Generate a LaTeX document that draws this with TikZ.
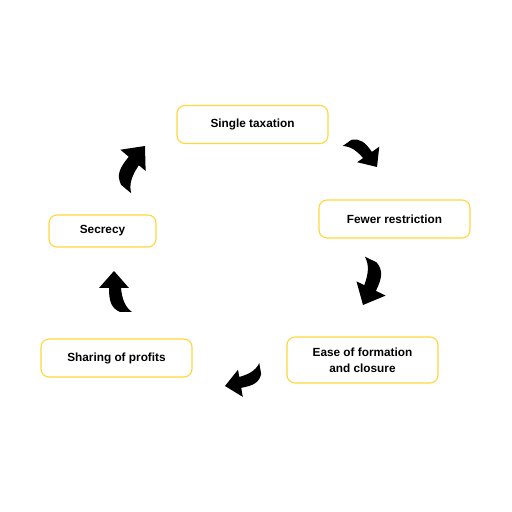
\documentclass[tikz,border=0pt]{standalone}
\usepackage{fontspec}
\setmainfont{Liberation Sans}
\usetikzlibrary{positioning}

\definecolor{boxyellow}{RGB}{255,214,60}

\tikzset{
    turnarrow/.pic = {
        \fill (0,0) -- (15,-17) -- (7,-17)
            .. controls (8,-28) and (11,-36) .. (18,-41) -- (6,-41)
            .. controls (-3,-37) and (-5,-30) .. (-5,-17)
            -- (-15,-17) -- cycle;
    }
}

\begin{document}
\begin{tikzpicture}[x=1pt,y=1pt,
            box/.style = {draw=boxyellow,line width=1.1pt,rounded corners=8pt,
                fill=white,align=center,inner sep=2pt,
                minimum width=151pt,minimum height=38pt,
                font=\bfseries\fontsize{11.8}{16}\selectfont}]
            \useasboundingbox (0,0) rectangle (512,512);
            \node[box](b1) at (252.5,387.5) {Single taxation};
            \node[box](b2) at (394.5,293) {Fewer restriction};
            \node[box,minimum height=46pt](b3) at (362.5,152) {Ease of formation\\and closure};
            \node[box](b4) at (116.5,154) {Sharing of profits};
            \node[box,minimum width=107pt,minimum height=32pt](b5) at (102.5,281) {Secrecy};
            % curved arrows, placed at their tips
            \pic[rotate=-145,scale=0.9] at (377,345) {turnarrow};
            \pic[rotate=154,scale=1.08] at (363,207) {turnarrow};
            \pic[rotate=100,scale=0.92] at (225,126) {turnarrow};
            \pic[rotate=0] at (114,241) {turnarrow};
            \pic[rotate=-40,scale=1.1] at (145,366) {turnarrow};
\end{tikzpicture}
\end{document}
